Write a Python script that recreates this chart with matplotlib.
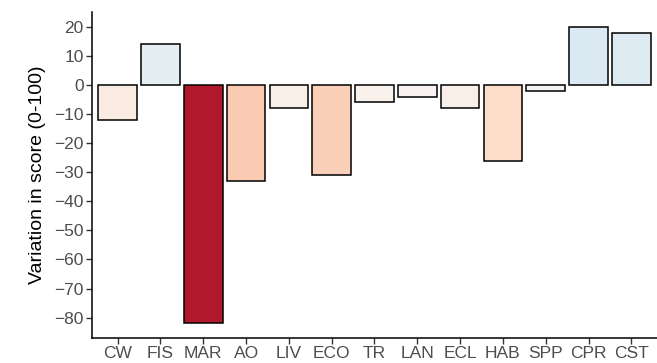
import numpy as np
import matplotlib.pyplot as plt
from matplotlib.colors import LinearSegmentedColormap, Normalize

plt.rcParams['font.family'] = ['Liberation Sans', 'DejaVu Sans']

categories = ['CW', 'FIS', 'MAR', 'AO', 'LIV', 'ECO', 'TR', 'LAN', 'ECL', 'HAB', 'SPP', 'CPR', 'CST']
variation = [-12, 14, -82, -33, -8, -31, -6, -4, -8, -26, -2, 20, 18]
y_ticks = [-80, -70, -60, -50, -40, -30, -20, -10, 0, 10, 20]

# RdBu distiller palette, symmetric around zero
rdbu = ['#b2182b', '#ef8a62', '#fddbc7', '#f7f7f7', '#d1e5f0', '#67a9cf', '#2166ac']
cmap = LinearSegmentedColormap.from_list('rdbu7', rdbu)
lim = max(abs(v) for v in variation)
norm = Normalize(vmin=-lim, vmax=lim)

fig = plt.figure(figsize=(6.57, 3.63), dpi=100)
ax = fig.add_axes([0.14, 0.068, 0.86, 0.899])

x = np.arange(1, len(categories) + 1)
ax.bar(x, variation, width=0.9, color=cmap(norm(np.array(variation))),
       edgecolor='black', linewidth=1.1)

ax.set_xlim(0.4, len(categories) + 0.6)
span = max(variation) - min(variation)
ax.set_ylim(min(variation) - 0.05 * span, max(variation) + 0.05 * span)
ax.set_xticks(x)
ax.set_xticklabels(categories)
ax.set_yticks(y_ticks)

for side in ['top', 'right']:
    ax.spines[side].set_visible(False)
for side in ['left', 'bottom']:
    ax.spines[side].set_linewidth(1.1)
    ax.spines[side].set_color('black')

ax.tick_params(axis='both', direction='out', length=4, width=1, color='#333333',
               labelcolor='#4d4d4d')
ax.tick_params(axis='x', labelsize=12.5, pad=1.5)
ax.tick_params(axis='y', labelsize=12.5, pad=2)
ax.set_ylabel('Variation in score (0-100)', fontsize=14, color='black', labelpad=6)

fig.savefig('out.png', dpi=100)
